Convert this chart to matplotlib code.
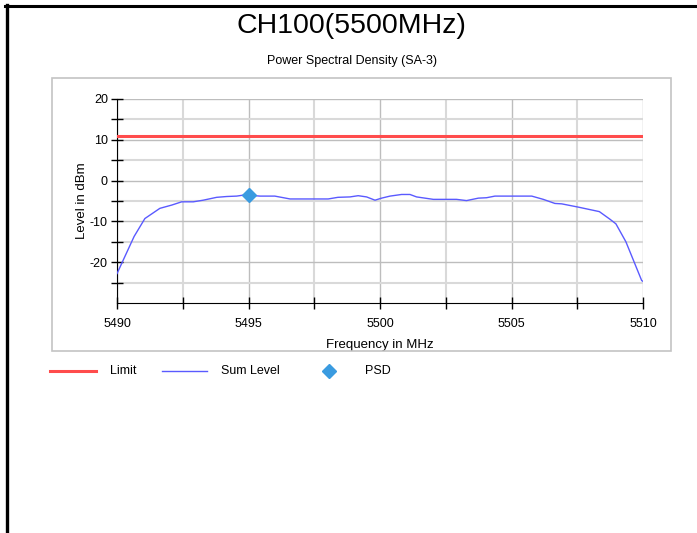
import matplotlib.pyplot as plt
from matplotlib.lines import Line2D
from matplotlib.patches import Rectangle
from matplotlib.ticker import MultipleLocator, FixedLocator, FuncFormatter

plt.rcParams['font.family'] = ['Liberation Sans', 'DejaVu Sans']

# Sum Level trace
freq = [5490.0, 5490.65, 5491.06, 5491.63, 5492.08, 5492.46, 5492.9, 5493.28,
        5493.79, 5494.17, 5494.55, 5494.87, 5495.44, 5496.0, 5496.58, 5497.47,
        5498.03, 5498.4, 5498.86, 5499.17, 5499.49, 5499.81, 5500.06, 5500.38,
        5500.82, 5501.14, 5501.39, 5502.03, 5502.91, 5503.29, 5503.74, 5504.05,
        5504.37, 5505.07, 5505.77, 5506.21, 5506.65, 5506.91, 5507.54, 5508.34,
        5508.75, 5508.97, 5509.35, 5509.95, 5510.0]
level = [-22.8, -13.7, -9.3, -6.8, -6.0, -5.2, -5.2, -4.8,
         -4.1, -3.9, -3.8, -3.5, -3.8, -3.8, -4.5, -4.5,
         -4.5, -4.1, -4.0, -3.7, -4.0, -4.8, -4.3, -3.8,
         -3.4, -3.4, -4.0, -4.6, -4.6, -4.9, -4.3, -4.2,
         -3.8, -3.8, -3.8, -4.6, -5.6, -5.7, -6.5, -7.6,
         -9.5, -10.6, -15.0, -24.5, -24.7]
limit_freq = [5490, 5510]
limit_level = [11, 11]
psd_freq = [5495.03]
psd_level = [-3.6]
y_labels = [-20, -10, 0, 10, 20]
y_minor = [-25, -15, -5, 5, 15]

red = '#ff4c4c'
blue = '#5a5aff'
psd_color = '#3a9be0'

fig = plt.figure(figsize=(6.97, 5.33), dpi=100)

# outer frame and grey panel
fig.add_artist(Line2D([6.5/697, 6.5/697], [0, 528/533], color='black', lw=2.4))
fig.add_artist(Line2D([5/697, 1], [527/533, 527/533], color='black', lw=2.2))
fig.add_artist(Rectangle((52/697, 182/533), 619/697, 273/533, fill=False,
                         edgecolor='#c4c4c4', lw=1.2))

fig.text(351/697, 0.952, 'CH100(5500MHz)', ha='center', va='center', fontsize=20.5)
fig.text(352/697, 0.885, 'Power Spectral Density (SA-3)', ha='center', va='center', fontsize=9)

ax = fig.add_axes([117/697, 230/533, 526/697, 204/533])
ax.plot(limit_freq, limit_level, color=red, lw=2.2, zorder=3)
ax.plot(freq, level, color=blue, lw=1.0, zorder=3)
ax.plot(psd_freq, psd_level, 'D', color=psd_color, ms=7, zorder=4)

ax.set_xlim(5490, 5510)
ax.set_ylim(-30, 20)
ax.xaxis.set_major_locator(MultipleLocator(5))
ax.xaxis.set_minor_locator(MultipleLocator(2.5))
ax.yaxis.set_major_locator(FixedLocator(y_labels))
ax.yaxis.set_minor_locator(FixedLocator(y_minor))
ax.yaxis.set_major_formatter(FuncFormatter(lambda v, p: '%d' % v))
ax.grid(which='major', color='#bdbdbd', lw=1.0)
ax.grid(which='minor', color='#d9d9d9', lw=1.5)
ax.set_axisbelow(True)
ax.tick_params(which='both', direction='inout', length=8, width=1, labelsize=9)
ax.tick_params(axis='x', which='major', pad=7)
ax.tick_params(axis='y', which='major', pad=2.5)
for s in ['top', 'right']:
    ax.spines[s].set_visible(False)
ax.set_xlabel('Frequency in MHz', fontsize=9.5, labelpad=6)
ax.set_ylabel('Level in dBm', fontsize=9.5)
ax.yaxis.set_label_coords(-0.056, 0.5)

# legend row under the panel
ly = 162/533
fig.add_artist(Line2D([50/697, 96/697], [ly, ly], color=red, lw=2.2))
fig.text(110/697, ly, 'Limit', va='center', fontsize=9)
fig.add_artist(Line2D([162/697, 207/697], [ly, ly], color=blue, lw=1.0))
fig.text(221/697, ly, 'Sum Level', va='center', fontsize=9)
fig.add_artist(Line2D([329/697], [ly], marker='D', color=psd_color, ms=7, lw=0))
fig.text(365/697, ly, 'PSD', va='center', fontsize=9)

fig.savefig('out.png', dpi=100)
